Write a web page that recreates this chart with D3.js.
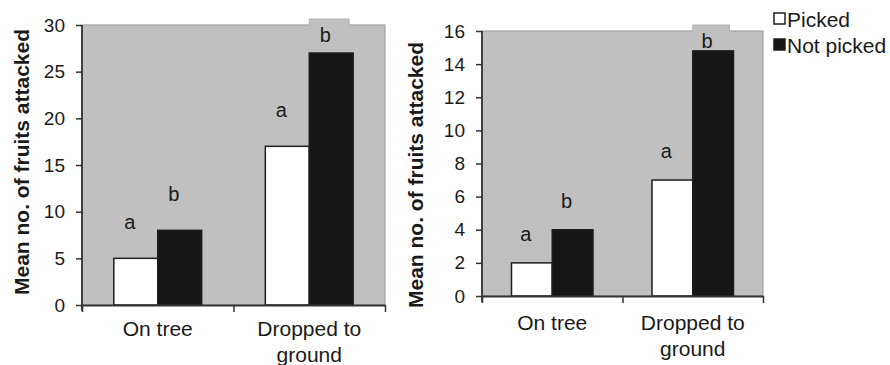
<!DOCTYPE html>
<html>
<head>
<meta charset="utf-8">
<script src="https://cdn.jsdelivr.net/npm/d3@7"></script>
<style>
  html, body { margin: 0; padding: 0; background: #ffffff; }
  svg { display: block; font-family: "Liberation Sans", Arial, sans-serif; }
</style>
</head>
<body>
<svg id="chart" width="890" height="365"></svg>
<script>
// Categories and series
const categories = ["On tree", "Dropped to ground"];
const seriesNames = ["Picked", "Not picked"];

// Left panel: mean fruits attacked
const leftPicked = [5, 17];
const leftNotPicked = [8, 27];
const leftPickedLetters = ["a", "a"];
const leftNotPickedLetters = ["b", "b"];
const leftTicks = [0, 5, 10, 15, 20, 25, 30];

// Right panel: mean fruits attacked
const rightPicked = [2, 7];
const rightNotPicked = [4, 14.8];
const rightPickedLetters = ["a", "a"];
const rightNotPickedLetters = ["b", "b"];
const rightTicks = [0, 2, 4, 6, 8, 10, 12, 14, 16];

const yTitle = "Mean no. of fruits attacked";

const svg = d3.select("#chart");
const colors = { "Picked": "#ffffff", "Not picked": "#161616" };

function wrap(textSel, width, lineHeight) {
  textSel.each(function () {
    const text = d3.select(this);
    const words = text.text().split(/\s+/);
    const y = text.attr("y");
    const dy = parseFloat(text.attr("dy")) || 0;
    text.text(null);
    let line = [];
    let lineNo = 0;
    let tspan = text.append("tspan").attr("x", 0).attr("y", y).attr("dy", dy + "px");
    words.forEach(w => {
      line.push(w);
      tspan.text(line.join(" "));
      if (tspan.node().getComputedTextLength() > width && line.length > 1) {
        line.pop();
        tspan.text(line.join(" "));
        line = [w];
        lineNo++;
        tspan = text.append("tspan").attr("x", 0).attr("y", y)
          .attr("dy", (dy + lineNo * lineHeight) + "px").text(w);
      }
    });
  });
}

function drawPanel(cfg) {
  const g = svg.append("g");
  const x = d3.scaleBand().domain(categories).range([cfg.x0, cfg.x1])
    .paddingInner(0.42).paddingOuter(0.21);
  const xs = d3.scaleBand().domain(seriesNames).range([0, x.bandwidth()]);
  const y = d3.scaleLinear().domain([0, cfg.yMax]).range([cfg.yBottom, cfg.yTop]);

  // plot area
  g.append("rect")
    .attr("x", cfg.x0).attr("y", cfg.yTop)
    .attr("width", cfg.x1 - cfg.x0).attr("height", cfg.yBottom - cfg.yTop)
    .attr("fill", "#c0c0c0").attr("stroke", "#a2a2a2").attr("stroke-width", 1.2);

  const rows = categories.map((c, i) => ({
    cat: c,
    bars: [
      { s: "Picked", v: cfg.picked[i], l: cfg.pickedLetters[i] },
      { s: "Not picked", v: cfg.notPicked[i], l: cfg.notPickedLetters[i] }
    ]
  }));

  // small shaded tab above the tallest bar
  const maxRow = rows[d3.maxIndex(rows, r => d3.max(r.bars, b => b.v))];
  const maxBar = maxRow.bars[d3.maxIndex(maxRow.bars, b => b.v)];
  g.append("rect")
    .attr("x", x(maxRow.cat) + xs(maxBar.s))
    .attr("y", cfg.yTop - 6)
    .attr("width", xs.bandwidth() - 4)
    .attr("height", 7)
    .attr("fill", "#c0c0c0");
  g.append("path")
    .attr("d", `M${x(maxRow.cat) + xs(maxBar.s)},${cfg.yTop}V${cfg.yTop - 6}H${x(maxRow.cat) + xs(maxBar.s) + xs.bandwidth() - 4}V${cfg.yTop}`)
    .attr("fill", "none").attr("stroke", "#b0b0b0").attr("stroke-width", 1);

  const grp = g.selectAll(".grp").data(rows).join("g")
    .attr("transform", d => `translate(${x(d.cat)},0)`);

  grp.selectAll("rect").data(d => d.bars).join("rect")
    .attr("x", d => xs(d.s))
    .attr("y", d => y(d.v))
    .attr("width", xs.bandwidth())
    .attr("height", d => y(0) - y(d.v))
    .attr("fill", d => colors[d.s])
    .attr("stroke", "#1e1e1e").attr("stroke-width", 1.5);

  grp.selectAll("text.let").data(d => d.bars).join("text")
    .attr("class", "let")
    .attr("x", d => xs(d.s) + xs.bandwidth() / 2 - 6)
    .attr("y", d => Math.max(y(d.v) - cfg.letterGap, cfg.yTop + 17))
    .attr("text-anchor", "middle")
    .attr("font-size", 20).attr("fill", "#1a1a1a")
    .text(d => d.l);

  // y axis
  const ya = g.append("g").attr("transform", `translate(${cfg.x0},0)`)
    .call(d3.axisLeft(y).tickValues(cfg.ticks).tickSize(6).tickPadding(11).tickSizeOuter(0));
  ya.select(".domain").remove();
  ya.selectAll(".tick line").attr("stroke", "#333").attr("stroke-width", 1.5);
  ya.selectAll(".tick text").attr("font-size", 19).attr("fill", "#1a1a1a")
    .attr("font-family", "Liberation Sans, Arial, sans-serif");
  g.append("line")
    .attr("x1", cfg.x0).attr("x2", cfg.x0)
    .attr("y1", cfg.yTop).attr("y2", cfg.yBottom + 6)
    .attr("stroke", "#333").attr("stroke-width", 1.8);

  // x axis: boundary ticks
  const xb = d3.scaleLinear().domain([0, categories.length]).range([cfg.x0, cfg.x1]);
  const xa = g.append("g").attr("transform", `translate(0,${cfg.yBottom})`)
    .call(d3.axisBottom(xb).tickValues(d3.range(categories.length + 1))
      .tickFormat("").tickSize(7).tickSizeOuter(0));
  xa.select(".domain").attr("stroke", "#333").attr("stroke-width", 1.8);
  xa.selectAll(".tick line").attr("stroke", "#333").attr("stroke-width", 1.5);

  // x category labels
  const xl = g.append("g").attr("transform", `translate(0,${cfg.yBottom})`)
    .call(d3.axisBottom(x).tickSize(0).tickPadding(0));
  xl.select(".domain").remove();
  xl.selectAll(".tick text")
    .attr("font-size", 21).attr("fill", "#1a1a1a")
    .attr("font-family", "Liberation Sans, Arial, sans-serif")
    .attr("y", 0).attr("dy", cfg.catGap)
    .call(wrap, 110, 26);

  // y title
  g.append("text")
    .attr("transform", `translate(${cfg.titleX},${cfg.titleY}) rotate(-90)`)
    .attr("text-anchor", "middle")
    .attr("font-size", 21).attr("font-weight", "bold").attr("fill", "#1a1a1a")
    .text(yTitle);
}

drawPanel({
  x0: 82, x1: 385, yTop: 25, yBottom: 305, yMax: 30, ticks: leftTicks,
  picked: leftPicked, notPicked: leftNotPicked,
  pickedLetters: leftPickedLetters, notPickedLetters: leftNotPickedLetters,
  letterGap: 29, catGap: 31, titleX: 29, titleY: 162
});

drawPanel({
  x0: 482, x1: 763, yTop: 31, yBottom: 296, yMax: 16, ticks: rightTicks,
  picked: rightPicked, notPicked: rightNotPicked,
  pickedLetters: rightPickedLetters, notPickedLetters: rightNotPickedLetters,
  letterGap: 22, catGap: 34, titleX: 423, titleY: 175
});

// legend
const legend = svg.append("g");
const legRows = legend.selectAll("g").data(seriesNames).join("g")
  .attr("transform", (d, i) => `translate(774,${13 + i * 26})`);
legRows.append("rect")
  .attr("x", 0).attr("y", 0).attr("width", 11).attr("height", 11)
  .attr("fill", d => colors[d]).attr("stroke", "#1e1e1e").attr("stroke-width", 1.5);
legRows.append("text")
  .attr("x", 13).attr("y", 14)
  .attr("font-size", 21).attr("fill", "#1a1a1a")
  .text(d => d);
</script>
</body>
</html>
